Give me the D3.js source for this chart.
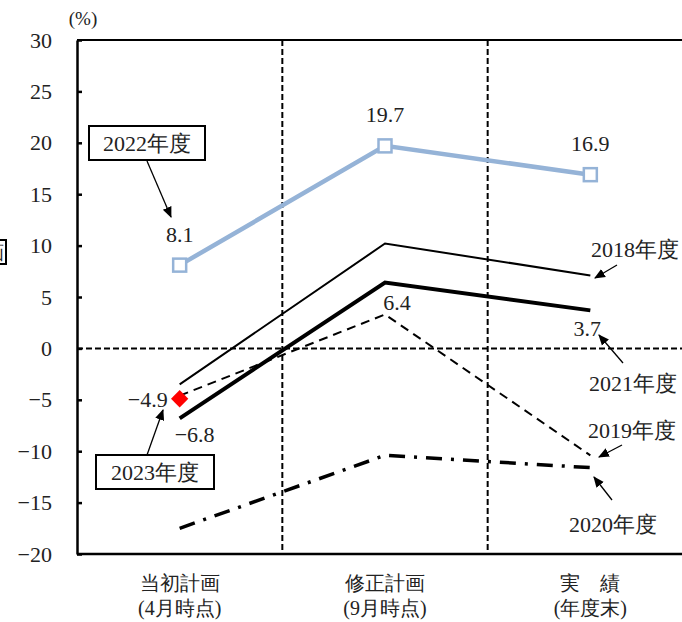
<!DOCTYPE html>
<html>
<head>
<meta charset="utf-8">
<script src="https://cdn.jsdelivr.net/npm/d3@7"></script>
<style>
  html, body { margin: 0; padding: 0; background: #fff; }
  svg { display: block; }
</style>
</head>
<body>
<svg id="chart" width="682" height="622"></svg>
<script>
// Stages of the fiscal-year plan
const categories = ["当初計画", "修正計画", "実績"];
const categoryLines = [["当初計画", "(4月時点)"], ["修正計画", "(9月時点)"], ["実　績", "(年度末)"]];

// Year-on-year change (%) per fiscal year
const fy2018 = [-3.5, 10.2, 7.1];
const fy2019 = [-4.6, 3.3, -10.4];
const fy2020 = [-17.5, -10.4, -11.6];
const fy2021 = [-6.8, 6.4, 3.7];
const fy2022 = [8.1, 19.7, 16.9];
const fy2023 = [-4.9];

const yTicks = [-20, -15, -10, -5, 0, 5, 10, 15, 20, 25, 30];

const FONT = "'Liberation Serif'";
const INK = "#222";

const svg = d3.select("#chart");
const plotLeft = 77, plotRight = 693, plotTop = 40, plotBottom = 554;

const x = d3.scaleBand().domain(categories).range([plotLeft, plotRight]).padding(0);
const y = d3.scaleLinear().domain([-20, 30]).range([plotBottom, plotTop]);
const cx = c => x(c) + x.bandwidth() / 2;

// arrowhead marker
svg.append("defs").append("marker")
  .attr("id", "arrow").attr("viewBox", "0 0 10 10")
  .attr("refX", 9).attr("refY", 5)
  .attr("markerWidth", 11).attr("markerHeight", 11)
  .attr("markerUnits", "userSpaceOnUse")
  .attr("orient", "auto")
  .append("path").attr("d", "M0,0.8 L10,5 L0,9.2 Z").attr("fill", "#000");

// frame: top and bottom lines
svg.append("line").attr("x1", plotLeft).attr("x2", plotRight).attr("y1", plotTop).attr("y2", plotTop)
  .attr("stroke", "#000").attr("stroke-width", 2);
svg.append("line").attr("x1", plotLeft).attr("x2", plotRight).attr("y1", plotBottom).attr("y2", plotBottom)
  .attr("stroke", "#000").attr("stroke-width", 2.5);

// dashed stage dividers
categories.slice(1).forEach(c => {
  svg.append("line").attr("x1", x(c)).attr("x2", x(c)).attr("y1", plotTop).attr("y2", plotBottom)
    .attr("stroke", "#000").attr("stroke-width", 2).attr("stroke-dasharray", "6,3");
});

// zero reference line
svg.append("line").attr("x1", plotLeft).attr("x2", plotRight).attr("y1", y(0)).attr("y2", y(0))
  .attr("stroke", "#000").attr("stroke-width", 2).attr("stroke-dasharray", "6,3");

// y axis
const yAxis = svg.append("g").attr("transform", `translate(${plotLeft},0)`)
  .call(d3.axisLeft(y).tickValues(yTicks).tickSizeInner(-5).tickSizeOuter(0).tickPadding(25));
yAxis.attr("font-family", null);
yAxis.select(".domain").attr("stroke", "#000").attr("stroke-width", 2.5);
yAxis.selectAll(".tick line").attr("stroke", "#000").attr("stroke-width", 2.5);
yAxis.selectAll(".tick text").attr("font-size", 22)
  .style("font-family", FONT).attr("fill", INK);

function txt(xp, yp, t, size, anchor) {
  return svg.append("text").attr("x", xp).attr("y", yp)
    .attr("text-anchor", anchor || "middle")
    .attr("font-size", size).attr("fill", INK)
    .style("font-family", FONT).text(t);
}

txt(83, 25, "(%)", 19);

// partially visible side label box
svg.append("rect").attr("x", -40).attr("y", 240).attr("width", 46).attr("height", 24)
  .attr("fill", "#fff").attr("stroke", "#000").attr("stroke-width", 2);
txt(4, 259, "計画", 19, "end");

// category labels
categoryLines.forEach((lines, i) => {
  const c = cx(categories[i]);
  txt(c, 590, lines[0], 20);
  txt(c, 615, lines[1], 20);
});

const line = d3.line().x((d, i) => cx(categories[i])).y(d => y(d));

function drawSeries(data, stroke, width, dash) {
  const p = svg.append("path").datum(data).attr("d", line)
    .attr("fill", "none").attr("stroke", stroke).attr("stroke-width", width);
  if (dash) p.attr("stroke-dasharray", dash);
  return p;
}

drawSeries(fy2020, "#000", 3.5, "16,9,3,9");
drawSeries(fy2019, "#000", 2, "9,6");
drawSeries(fy2018, "#000", 2);
drawSeries(fy2021, "#000", 4);
drawSeries(fy2022, "#95b3d7", 4.5);

// 2022 markers: open squares
svg.selectAll(".sq").data(fy2022).enter().append("rect")
  .attr("x", (d, i) => cx(categories[i]) - 6.5).attr("y", d => y(d) - 6.5)
  .attr("width", 13).attr("height", 13)
  .attr("fill", "#fff").attr("stroke", "#95b3d7").attr("stroke-width", 2.5);

// 2023 marker: red diamond
svg.selectAll(".dm").data(fy2023).enter().append("path")
  .attr("d", d3.symbol(d3.symbolSquare, 150)())
  .attr("transform", (d, i) => `translate(${cx(categories[i])},${y(d)}) rotate(45)`)
  .attr("fill", "#ff0000");

// value labels
const fmt = v => d3.format(".1f")(v);
const VS = 22;
txt(cx(categories[0]), y(fy2022[0]) - 23, fmt(fy2022[0]), VS);
txt(cx(categories[1]), y(fy2022[1]) - 24, fmt(fy2022[1]), VS);
txt(cx(categories[2]), y(fy2022[2]) - 24, fmt(fy2022[2]), VS);
txt(cx(categories[1]) + 12, y(fy2021[1]) + 27, fmt(fy2021[1]), VS);
txt(cx(categories[2]) - 3, y(fy2021[2]) + 26, fmt(fy2021[2]), VS);
txt(cx(categories[0]) - 12, y(fy2023[0]) + 8, fmt(fy2023[0]), VS, "end");
txt(cx(categories[0]) + 15, y(fy2021[0]) + 24, fmt(fy2021[0]), VS);

// series name callouts
function boxLabel(xc, yc, w, h, t) {
  svg.append("rect").attr("x", xc - w / 2).attr("y", yc - h / 2).attr("width", w).attr("height", h)
    .attr("fill", "#fff").attr("stroke", "#000").attr("stroke-width", 2);
  txt(xc, yc + 8, t, VS);
}
function arrow(x1, y1, x2, y2) {
  svg.append("line").attr("x1", x1).attr("y1", y1).attr("x2", x2).attr("y2", y2)
    .attr("stroke", "#000").attr("stroke-width", 1.3).attr("marker-end", "url(#arrow)");
}

boxLabel(147, 143, 116, 34, "2022年度");
arrow(147, 161, 171, 217);
boxLabel(155, 472, 118, 34, "2023年度");
arrow(147, 455, 163, 410);

txt(635, 257, "2018年度", VS);
arrow(617, 265, 595, 278);
txt(633, 391, "2021年度", VS);
arrow(623, 363, 599, 335);
txt(632, 438, "2019年度", VS);
arrow(622, 445, 599, 457);
txt(613, 532, "2020年度", VS);
arrow(612, 500, 594, 477);
</script>
</body>
</html>
